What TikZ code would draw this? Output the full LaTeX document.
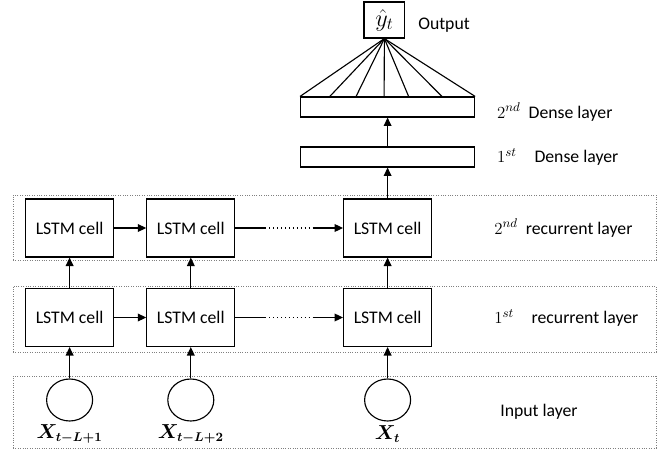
\documentclass[tikz,border=0pt]{standalone}
\usepackage{amsmath}
\usepackage{fontspec}
\setmainfont{Carlito}
\usetikzlibrary{shapes.geometric, arrows.meta, positioning, calc}
\tikzset{
  cell/.style={rectangle, draw=black, thick, minimum width=2.2cm,
    minimum height=1.45cm, font=\fontsize{12.6}{15}\selectfont},
  dense/.style={rectangle, draw=black, thick, minimum width=4.35cm, minimum height=0.5cm},
  inp/.style={ellipse, draw=black, thick, minimum width=1.15cm, minimum height=1.05cm},
  layerbox/.style={rectangle, draw=gray, densely dotted, line width=0.7pt, minimum width=16.075cm},
  arrow/.style={-{Triangle[length=6pt,width=5.5pt]}, thick},
  line/.style={thick},
  lbl/.style={anchor=west, inner sep=0pt, font=\fontsize{12.6}{15}\selectfont},
  xlbl/.style={font=\fontsize{13.5}{15}\selectfont}
}

\begin{document}
\begin{tikzpicture}
  \useasboundingbox (0,0) rectangle (16.75,11.25);
  % layer frames
  \node [layerbox, minimum height=1.625cm] (rec2) at (8.3625,5.5625) {};
  \node [layerbox, minimum height=1.65cm] (rec1) at (8.3625,3.275) {};
  \node [layerbox, minimum height=1.8cm] (inl) at (8.3625,0.95) {};

  % input layer
  \node [inp] (x1) at (1.74,1.25) {};
  \node [inp] (x2) at (4.77,1.25) {};
  \node [inp] (x3) at (9.69,1.25) {};
  \node [xlbl] (lx1) at (1.74,0.4) {$\boldsymbol{X_{t-L+1}}$};
  \node [xlbl] (lx2) at (4.77,0.4) {$\boldsymbol{X_{t-L+2}}$};
  \node [xlbl] (lx3) at (9.69,0.4) {$\boldsymbol{X_{t}}$};

  % recurrent layers
  \node [cell] (c11) at (1.74,3.3125) {LSTM cell};
  \node [cell] (c12) at (4.77,3.3125) {LSTM cell};
  \node [cell] (c13) at (9.69,3.3125) {LSTM cell};
  \node [cell] (c21) at (1.74,5.55) {LSTM cell};
  \node [cell] (c22) at (4.77,5.55) {LSTM cell};
  \node [cell] (c23) at (9.69,5.55) {LSTM cell};

  % dense layers and output
  \node [dense] (d1) at (9.69,7.325) {};
  \node [dense] (d2) at (9.69,8.575) {};
  \node [rectangle, draw=black, thick, minimum width=1.02cm, minimum height=0.9cm,
    font=\fontsize{17}{20}\selectfont] (out) at (9.61,10.75) {$\hat{y}_t$};

  % connections
  \draw [arrow] (x1) -- (c11);
  \draw [arrow] (x2) -- (c12);
  \draw [arrow] (x3) -- (c13);
  \draw [arrow] (c11) -- (c21);
  \draw [arrow] (c12) -- (c22);
  \draw [arrow] (c13) -- (c23);
  \draw [arrow] (c11) -- (c12);
  \draw [arrow] (c21) -- (c22);
  \draw [line] (c12.east) -- ++(0.75,0) coordinate (g1);
  \draw [line, dotted] (g1) -- ++(1.2,0) coordinate (g2);
  \draw [arrow] (g2) -- (c13.west);
  \draw [line] (c22.east) -- ++(0.75,0) coordinate (h1);
  \draw [line, dotted] (h1) -- ++(1.2,0) coordinate (h2);
  \draw [arrow] (h2) -- (c23.west);
  \draw [arrow] (c23) -- (d1);
  \draw [arrow] (d1) -- (d2);
  \foreach \f in {0,0.17,0.32,0.48,0.62,0.81,1}
    \draw [line] (out.south) -- ($(d2.north west)!\f!(d2.north east)$);

  % labels
  \node [lbl] (lout) at (10.45,10.63) {Output};
  \node [lbl] (ld2) at (12.42,8.45) {$2^{nd}$\ \ Dense layer};
  \node [lbl] (ld1) at (12.42,7.33) {$1^{st}$\quad Dense layer};
  \node [lbl] (lr2) at (12.35,5.55) {$2^{nd}$\ \ recurrent layer};
  \node [lbl] (lr1) at (12.35,3.3) {$1^{st}$\quad recurrent layer};
  \node [lbl] (lin) at (12.5,0.95) {Input layer};
\end{tikzpicture}
\end{document}
